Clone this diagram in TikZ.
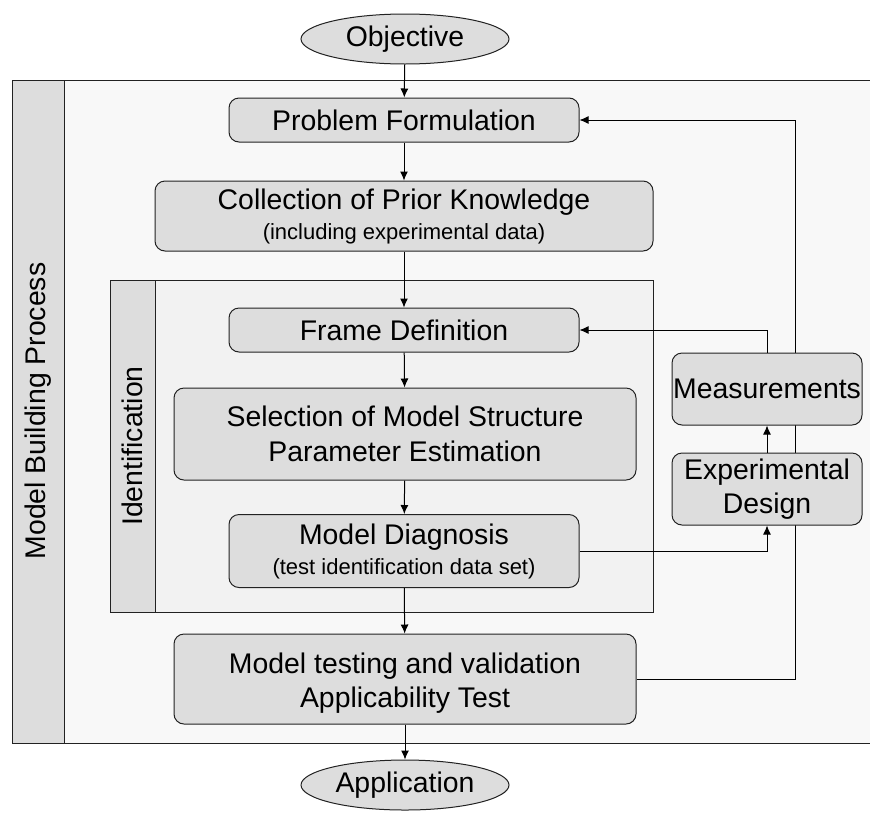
\documentclass[tikz,border=0pt]{standalone}
\usepackage{fontspec}
\setmainfont{Liberation Sans}
\usetikzlibrary{shapes.geometric, arrows.meta}

\definecolor{boxgray}{HTML}{DDDDDD}
\definecolor{outerfill}{HTML}{F8F8F8}
\definecolor{innerfill}{HTML}{F2F2F2}
\definecolor{linegray}{HTML}{222222}

\tikzset{
  box/.style={draw=linegray, fill=boxgray, rounded corners=5pt, align=center,
    inner sep=0pt, font=\fontsize{14.2}{17}\selectfont},
  term/.style={ellipse, draw=linegray, fill=boxgray, minimum width=104pt,
    minimum height=25pt, inner sep=0pt, font=\fontsize{14.2}{17}\selectfont},
  side/.style={rotate=90, font=\fontsize{14.2}{17}\selectfont},
  flow/.style={-{Latex[length=4.5pt, width=4pt]}, draw=black, line width=0.5pt},
}
\newcommand{\subline}[1]{{\fontsize{11}{13}\selectfont #1}}

\begin{document}
\begin{tikzpicture}[x=0.5pt, y=-0.5pt, line width=0.5pt]
    \useasboundingbox (0,0) rectangle (870,814);

    % outer frame: model building process
    \fill[outerfill] (12,80) rectangle (870,743);
    \fill[boxgray] (12,80) rectangle (64,743);
    \draw[linegray] (870,80) -- (12,80) -- (12,743) -- (870,743);
    \draw[linegray] (64,80) -- (64,743);
    \node[side] (mbp) at (38,411) {Model Building Process};

    % inner frame: identification
    \draw[linegray, fill=innerfill] (110,280) rectangle (653,612);
    \draw[linegray, fill=boxgray] (110,280) rectangle (155,612);
    \node[side] (ident) at (132,446) {Identification};

    % start and end
    \node[term] (obj) at (405,39) {Objective};
    \node[term] (app) at (405,785) {Application};

    % main steps
    \node[box, minimum width=175pt, minimum height=22pt] (pf) at (404,120) {Problem Formulation};
    \node[box, minimum width=249pt, minimum height=35pt] (cpk) at (404,216)
        {Collection of Prior Knowledge\\[-2pt]\subline{(including experimental data)}};
    \node[box, minimum width=175pt, minimum height=22pt] (fd) at (404,330) {Frame Definition};
    \node[box, minimum width=231pt, minimum height=46pt] (sel) at (405,434)
        {Selection of Model Structure\\[0.5pt]Parameter Estimation};
    \node[box, minimum width=175pt, minimum height=36.5pt] (md) at (404,551)
        {Model Diagnosis\\[-2pt]\subline{(test identification data set)}};
    \node[box, minimum width=231pt, minimum height=45pt] (mt) at (405,679)
        {\rule{0pt}{14pt}Model testing and validation\\[0pt]Applicability Test};

    % main flow
    \draw[flow] (obj) -- (pf);
    \draw[flow] (pf) -- (cpk);
    \draw[flow] (cpk) -- (fd);
    \draw[flow] (fd) -- (sel);
    \draw[flow] (sel) -- (md);
    \draw[flow] (md) -- (mt);
    \draw[flow] (mt) -- (app);

    % feedback to problem formulation (runs behind the side boxes)
    \coordinate (back) at (795,120);
    \draw[flow] (mt.east) -| (back) -- (pf.east);

    % experiment loop
    \node[box, minimum width=95pt, minimum height=36pt] (meas) at (767,389) {Measurements};
    \node[box, minimum width=95pt, minimum height=36pt] (exp) at (767,489) {Experimental\\Design};
    \draw[flow] (md.east) -| (exp.south);
    \draw[flow] (exp) -- (meas);
    \draw[flow] (meas.north) |- (fd.east);
\end{tikzpicture}
\end{document}
